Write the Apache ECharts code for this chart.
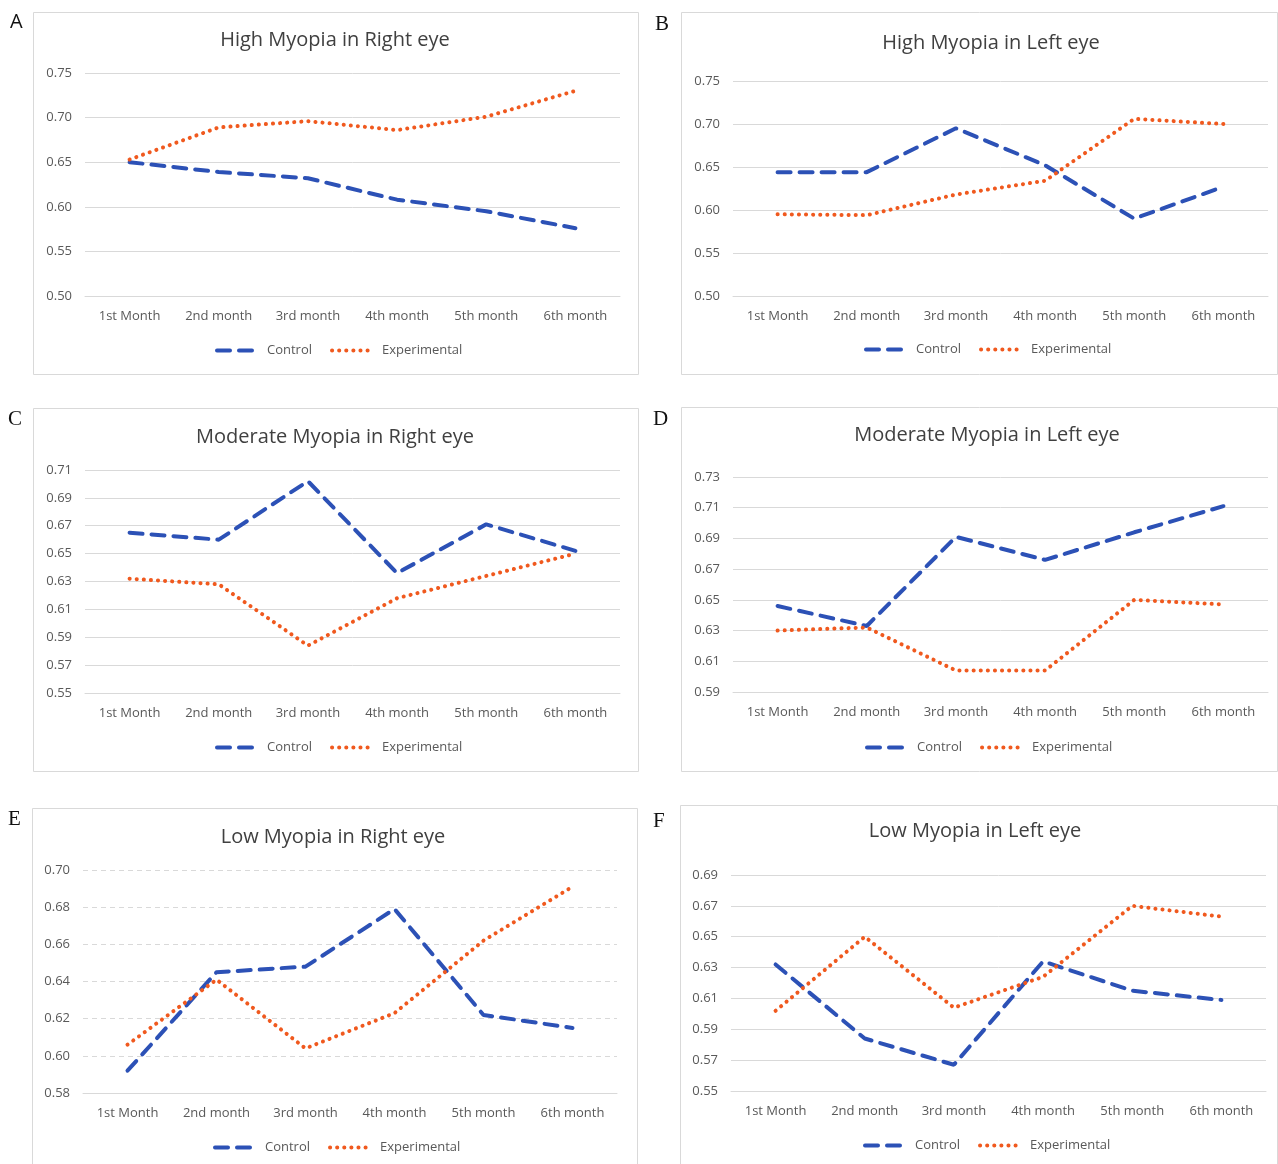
<!DOCTYPE html>
<html>
<head>
<meta charset="utf-8">
<title>Myopia follow-up: Control vs Experimental</title>
<script src="https://cdn.jsdelivr.net/npm/echarts@6/dist/echarts.min.js"></script>
<style>
  html, body { margin: 0; padding: 0; background: #ffffff; }
  #chart { width: 1278px; height: 1164px; }
</style>
</head>
<body>
<div id="chart"></div>
<script>
// Follow-up months shared by every panel
const months = ['1st Month', '2nd month', '3rd month', '4th month', '5th month', '6th month'];
const seriesNames = ['Control', 'Experimental'];

// A: High myopia, right eye
const highRightControl = [0.650, 0.639, 0.632, 0.608, 0.595, 0.576];
const highRightExperimental = [0.653, 0.689, 0.696, 0.686, 0.701, 0.730];
// B: High myopia, left eye
const highLeftControl = [0.644, 0.644, 0.695, 0.652, 0.590, 0.627];
const highLeftExperimental = [0.595, 0.594, 0.618, 0.634, 0.706, 0.700];
// C: Moderate myopia, right eye
const modRightControl = [0.665, 0.660, 0.702, 0.636, 0.671, 0.652];
const modRightExperimental = [0.632, 0.628, 0.584, 0.618, 0.634, 0.650];
// D: Moderate myopia, left eye
const modLeftControl = [0.646, 0.633, 0.691, 0.676, 0.694, 0.711];
const modLeftExperimental = [0.630, 0.632, 0.604, 0.604, 0.650, 0.647];
// E: Low myopia, right eye
const lowRightControl = [0.592, 0.645, 0.648, 0.679, 0.622, 0.615];
const lowRightExperimental = [0.606, 0.641, 0.604, 0.623, 0.662, 0.691];
// F: Low myopia, left eye
const lowLeftControl = [0.632, 0.584, 0.567, 0.634, 0.615, 0.609];
const lowLeftExperimental = [0.602, 0.650, 0.604, 0.624, 0.670, 0.663];

// Panel titles, letters and y-axis ranges
const panelTitles = [
  'High Myopia in Right eye', 'High Myopia in Left eye',
  'Moderate Myopia in Right eye', 'Moderate Myopia in Left eye',
  'Low Myopia in Right eye', 'Low Myopia in Left eye'
];
const panelLetters = ['A', 'B', 'C', 'D', 'E', 'F'];
const yMin = [0.50, 0.50, 0.55, 0.59, 0.58, 0.55];
const yMax = [0.75, 0.75, 0.71, 0.73, 0.70, 0.69];
const yStep = [0.05, 0.05, 0.02, 0.02, 0.02, 0.02];

const controlData = [highRightControl, highLeftControl, modRightControl, modLeftControl, lowRightControl, lowLeftControl];
const experimentalData = [highRightExperimental, highLeftExperimental, modRightExperimental, modLeftExperimental, lowRightExperimental, lowLeftExperimental];

// Layout of each panel (pixels)
const layout = [
  { box: [33, 12, 605, 362],  grid: [85, 73, 535, 223],  title: [335, 40],  letter: [10, 22],  legend: [215, 344] },
  { box: [681, 12, 596, 362], grid: [733, 81, 535, 215], title: [991, 43],  letter: [655, 24],  legend: [864, 343] },
  { box: [33, 408, 605, 363], grid: [85, 470, 535, 223], title: [335, 437], letter: [8, 419],  legend: [215, 741] },
  { box: [681, 407, 596, 364],grid: [733, 477, 535, 215],title: [987, 435], letter: [653, 419], legend: [865, 741] },
  { box: [32, 808, 605, 360], grid: [83, 870, 534, 223], title: [333, 837], letter: [8, 819],  legend: [213, 1141] },
  { box: [680, 805, 597, 362],grid: [731, 875, 535, 216],title: [975, 831], letter: [653, 821], legend: [863, 1139] }
];

const BLUE = '#2C51B6';
const ORANGE = '#F0591E';
const TEXT = '#595959';
const GRID = '#D9D9D9';
const FONT = '"Open Sans", "Noto Sans", sans-serif';

const controlLine = { color: BLUE, width: 4, type: [13, 9], cap: 'round' };
const experimentalLine = { color: ORANGE, width: 4, type: [0.1, 7], cap: 'round' };

const grids = [], xAxes = [], yAxes = [], series = [], legends = [], graphics = [];

layout.forEach((p, i) => {
  grids.push({ left: p.grid[0], top: p.grid[1], width: p.grid[2], height: p.grid[3], containLabel: false });
  xAxes.push({
    type: 'category', gridIndex: i, data: months, boundaryGap: true,
    axisLine: { show: true, lineStyle: { color: GRID, width: 1 } },
    axisTick: { show: false },
    axisLabel: { color: TEXT, fontSize: 13, fontFamily: FONT, margin: 14 }
  });
  yAxes.push({
    type: 'value', gridIndex: i, min: yMin[i], max: yMax[i], interval: yStep[i],
    axisLine: { show: false }, axisTick: { show: false },
    axisLabel: { color: TEXT, fontSize: 13, fontFamily: FONT, margin: 13, formatter: v => v.toFixed(2) },
    splitLine: { show: true, lineStyle: { color: GRID, width: 1, type: i === 4 ? [5, 4] : 'solid' } }
  });
  series.push({
    name: seriesNames[0], type: 'line', xAxisIndex: i, yAxisIndex: i, data: controlData[i],
    symbol: 'none', smooth: false, z: 3,
    lineStyle: controlLine,
    itemStyle: { color: BLUE }
  });
  series.push({
    name: seriesNames[1], type: 'line', xAxisIndex: i, yAxisIndex: i, data: experimentalData[i],
    symbol: 'none', smooth: false, z: 4,
    lineStyle: experimentalLine,
    itemStyle: { color: ORANGE }
  });
  legends.push({
    left: p.legend[0], top: p.legend[1], orient: 'horizontal', padding: 0,
    data: [
      { name: seriesNames[0], itemStyle: { color: 'transparent', borderWidth: 0 },
        lineStyle: { color: BLUE, width: 4, type: [13, 9], cap: 'round' } },
      { name: seriesNames[1], itemStyle: { color: 'transparent', borderWidth: 0 },
        lineStyle: { color: ORANGE, width: 4, type: [0.1, 7], cap: 'round' } }
    ],
    itemWidth: 42, itemHeight: 14, itemGap: 18,
    selectedMode: false,
    textStyle: { color: TEXT, fontSize: 13, fontFamily: FONT, padding: [0, 0, 0, 3] }
  });
  // Panel frame
  graphics.push({
    type: 'rect', shape: { x: p.box[0] + 0.5, y: p.box[1] + 0.5, width: p.box[2], height: p.box[3] },
    style: { fill: 'none', stroke: GRID, lineWidth: 1 }, silent: true, z: -1
  });
  // Panel title
  graphics.push({
    type: 'text', x: p.title[0], y: p.title[1],
    style: { text: panelTitles[i], fill: '#404040', font: '20px ' + FONT, textAlign: 'center', textVerticalAlign: 'middle' },
    silent: true
  });
  // Panel letter
  graphics.push({
    type: 'text', x: p.letter[0], y: p.letter[1],
    style: {
      text: panelLetters[i], fill: '#111111',
      font: i === 0 ? '20px "Open Sans", sans-serif' : '21px "Liberation Serif", "DejaVu Serif", serif',
      textAlign: 'left', textVerticalAlign: 'middle'
    },
    silent: true
  });
});

const chart = echarts.init(document.getElementById('chart'), null, { renderer: 'canvas' });
chart.setOption({
  animation: false,
  backgroundColor: '#ffffff',
  grid: grids,
  xAxis: xAxes,
  yAxis: yAxes,
  legend: legends,
  series: series,
  graphic: graphics
});
</script>
</body>
</html>
